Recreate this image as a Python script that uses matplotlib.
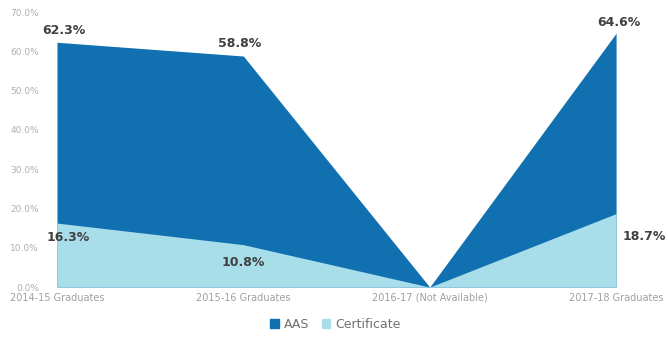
import matplotlib
matplotlib.use("Agg")
import matplotlib.pyplot as plt
from matplotlib.patches import Patch

categories = ["2014-15 Graduates", "2015-16 Graduates", "2016-17 (Not Available)", "2017-18 Graduates"]
aas = [62.3, 58.8, 0.0, 64.6]
certificate = [16.3, 10.8, 0.0, 18.7]
aas_labels = ["62.3%", "58.8%", None, "64.6%"]
cert_labels = ["16.3%", "10.8%", None, "18.7%"]
yticks = [0, 10, 20, 30, 40, 50, 60, 70]

c_aas = "#1170b0"
c_cert = "#a8deea"

fig = plt.figure(figsize=(6.68, 3.48), dpi=100)
ax = fig.add_axes([0.0853, 0.175, 0.837, 0.7905])
x = list(range(len(categories)))
ax.fill_between(x, 0, aas, color=c_aas, linewidth=0)
ax.fill_between(x, 0, certificate, color=c_cert, linewidth=0)

ax.set_xlim(0, 3)
ax.set_ylim(0, 70)
ax.set_yticks(yticks)
ax.set_yticklabels([f"{v:.1f}%" for v in yticks], fontsize=6.5, color="#b0b0b0")
ax.set_xticks(x)
ax.set_xticklabels(categories, fontsize=7, color="#a0a0a0")
ax.tick_params(axis="x", length=0, pad=4)
ax.tick_params(axis="y", length=0, pad=13)
for s in ax.spines.values():
    s.set_visible(False)

lab_kw = dict(fontsize=9, color="#404040", fontweight="bold")
# AAS labels
ax.annotate(aas_labels[0], (0, aas[0]), xytext=(5, 4), textcoords="offset points", ha="center", va="bottom", **lab_kw)
ax.annotate(aas_labels[1], (1, aas[1]), xytext=(-3, 4), textcoords="offset points", ha="center", va="bottom", **lab_kw)
ax.annotate(aas_labels[3], (3, aas[3]), xytext=(2, 3), textcoords="offset points", ha="center", va="bottom", **lab_kw)
# Certificate labels
ax.annotate(cert_labels[0], (0, certificate[0]), xytext=(8, -6), textcoords="offset points", ha="center", va="top", **lab_kw)
ax.annotate(cert_labels[1], (1, certificate[1]), xytext=(0, -8), textcoords="offset points", ha="center", va="top", **lab_kw)
ax.annotate(cert_labels[3], (3, certificate[3]), xytext=(20, -12), textcoords="offset points", ha="center", va="top", **lab_kw)

handles = [Patch(color=c_aas, label="AAS"), Patch(color=c_cert, label="Certificate")]
fig.legend(handles=handles, loc="center", bbox_to_anchor=(0.502, 0.068), ncol=2, frameon=False,
           fontsize=9, handlelength=0.7, handleheight=0.7, handletextpad=0.4, columnspacing=1.0,
           labelcolor="#707070")

fig.savefig("out.png", dpi=100)
